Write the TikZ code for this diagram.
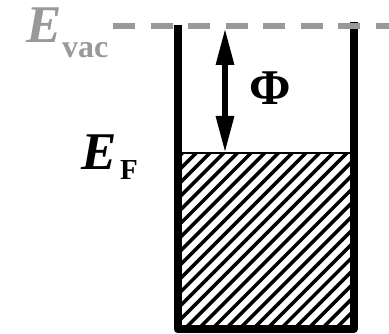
\documentclass[tikz,border=0pt]{standalone}
\usepackage{fontspec}
\setmainfont{Liberation Serif}
\usetikzlibrary{arrows.meta}
\definecolor{vacgray}{gray}{0.6}
\tikzset{
  wall/.style={line width=8pt, line join=round, line cap=butt},
  vacline/.style={vacgray, line width=6pt, dash pattern=on 22pt off 15.5pt},
  hatch/.style={line width=3.5pt},
  dblarrow/.style={line width=6pt, {Triangle[length=37pt,width=17pt]}-{Triangle[length=37pt,width=17pt]}},
  lbl/.style={inner sep=0pt, anchor=base west},
}
\begin{document}
\begin{tikzpicture}[x=1pt,y=-1pt]
\useasboundingbox (0,0) rectangle (389,334);
% hatched Fermi sea
\begin{scope}
  \clip (181,153) rectangle (350,326);
  \foreach \i in {-200,-186.3,...,360} {
    \draw[hatch] (\i,330) -- (\i+190,140);
  }
\end{scope}
\draw[line width=2pt] (181,153) -- (350,153);
% well walls
\draw[wall] (177.5,25) -- (177.5,329) -- (353.5,329) -- (353.5,22);
% vacuum level
\draw[vacline] (113,26) -- (389,26);
% work function arrow
\coordinate (top) at (225,28);
\coordinate (fermi) at (225,153);
\draw[dblarrow] (top) -- (fermi);
% labels
\node[lbl, text=vacgray, font=\fontsize{53}{53}\selectfont\bfseries\itshape] (ev) at (26,43) {E};
\node[lbl, text=vacgray, font=\fontsize{32}{32}\selectfont\bfseries] (vac) at (62,58) {vac};
\node[lbl, font=\fontsize{53}{53}\selectfont\bfseries\itshape] (ef) at (81,170) {E};
\node[lbl, font=\fontsize{29}{29}\selectfont\bfseries] (fsub) at (120,180) {F};
\node[lbl, font=\fontsize{50}{50}\selectfont\bfseries] (phi) at (249,105) {Φ};
\end{tikzpicture}
\end{document}
